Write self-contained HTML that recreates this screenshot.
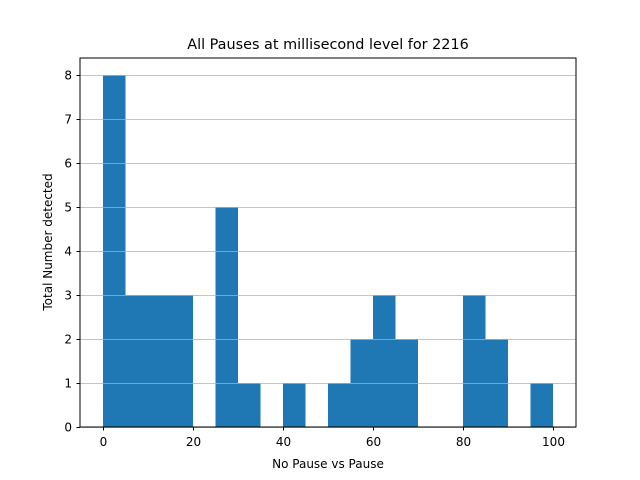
<!DOCTYPE html>
<html><head><meta charset="utf-8"><style>
body{margin:0;background:#fff}
svg{display:block;font-family:"DejaVu Sans","Liberation Sans",sans-serif}
</style></head><body>
<svg id="chart" width="640" height="480">
<rect width="640" height="480" fill="#fff"/>
<text x="328" y="49" text-anchor="middle" font-size="14.4">All Pauses at millisecond level for 2216</text>
<g id="bars"></g>
<g id="grid"></g>
<rect x="80" y="58" width="496" height="369" fill="none" stroke="#000" stroke-width="1"/>
<g id="xt"></g>
<g id="yt"></g>
<text x="328" y="468" text-anchor="middle" font-size="12">No Pause vs Pause</text>
<text x="52" y="242" text-anchor="middle" font-size="12" transform="rotate(-90 52 242)">Total Number detected</text>
</svg>
<script>
const binStarts=[0,5,10,15,20,25,30,35,40,45,50,55,60,65,70,75,80,85,90,95];
const counts=[8,3,3,3,0,5,1,0,1,0,1,2,3,2,0,0,3,2,0,1];
const binWidth=5;
const xTicks=[0,20,40,60,80,100];
const yTicks=[0,1,2,3,4,5,6,7,8];
const NS="http://www.w3.org/2000/svg";
const X=v=>103+v*4.5, Y=v=>427-v*44;
function mk(t,a,p){const e=document.createElementNS(NS,t);for(const k in a)e.setAttribute(k,a[k]);p.appendChild(e);return e;}
const bars=document.getElementById('bars');
binStarts.forEach((s,i)=>{if(!counts[i])return;
 const r=mk('rect',{x:X(s),y:Y(counts[i]),width:X(s+binWidth)-X(s),height:Y(0)-Y(counts[i]),fill:'#1f77b4'},bars);
 
 });
const grid=document.getElementById('grid'),yt=document.getElementById('yt'),xt=document.getElementById('xt');
yTicks.forEach(v=>{
 const g=mk('line',{x1:80,x2:576,y1:Y(v)+.5,y2:Y(v)+.5,stroke:'#b0b0b0','stroke-width':0.8},grid);
 
 
 mk('line',{x1:76.5,x2:80,y1:Y(v)+.5,y2:Y(v)+.5,stroke:'#000'},yt);
 const t=mk('text',{x:72,y:Y(v)+4.5,'text-anchor':'end','font-size':12},yt);t.textContent=v;
 
 });
xTicks.forEach(v=>{
 mk('line',{x1:X(v)+.5,x2:X(v)+.5,y1:427,y2:430.5,stroke:'#000'},xt);
 const t=mk('text',{x:X(v)+.5,y:446,'text-anchor':'middle','font-size':12},xt);t.textContent=v;
 
 });
</script>
</body></html>
